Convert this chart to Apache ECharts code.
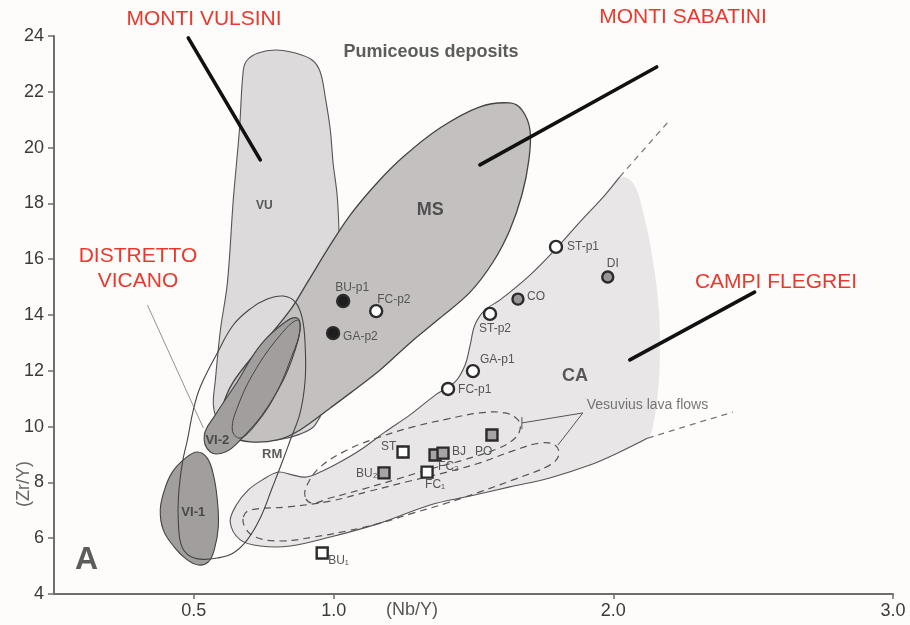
<!DOCTYPE html>
<html>
<head>
<meta charset="utf-8">
<script src="https://cdn.jsdelivr.net/npm/echarts@6/dist/echarts.min.js"></script>
<style>
html,body{margin:0;padding:0;background:#fdfcfb}
#chart{width:910px;height:625px}
</style>
</head>
<body>
<div id="chart"></div>
<script>
// ---------- axes ----------
const xTickValues = [0.5, 1.0, 2.0, 3.0];
const yRange = [4, 24];

// ---------- field outlines, in (Nb/Y, Zr/Y) ----------
const outlineVU = [[0.677,22.78],[0.691,23.14],[0.730,23.39],[0.791,23.50],[0.863,23.39],[0.923,23.14],[0.952,22.71],[0.970,21.81],[0.988,20.63],[0.998,19.45],[1.013,18.23],[1.020,16.69],[1.023,14.90],[1.016,13.10],[0.988,11.31],[0.934,10.06],[0.880,9.73],[0.798,9.52],[0.702,9.52],[0.630,9.73],[0.588,10.16],[0.570,10.77],[0.577,11.67],[0.595,13.46],[0.620,15.15],[0.641,18.12],[0.663,20.63]];
const outlineMS = [[1.523,21.46],[1.630,21.60],[1.673,21.35],[1.702,20.63],[1.698,19.56],[1.673,18.30],[1.630,17.05],[1.570,15.90],[1.488,14.82],[1.380,13.89],[1.273,13.00],[1.166,12.03],[1.059,11.20],[0.988,10.67],[0.880,9.88],[0.798,9.52],[0.702,9.45],[0.638,9.63],[0.602,10.06],[0.602,10.67],[0.641,11.60],[0.738,12.85],[0.845,14.18],[0.905,15.15],[0.988,16.51],[1.059,17.58],[1.155,18.73],[1.248,19.66],[1.380,20.70]];
const outlineVI2 = [[0.870,13.89],[0.827,13.75],[0.738,12.92],[0.648,11.49],[0.577,10.42],[0.5375,9.70],[0.559,9.09],[0.6125,9.09],[0.666,9.52],[0.745,10.42],[0.820,11.67],[0.8625,12.75],[0.880,13.53]];
const outlineVI2core = [[0.870,13.82],[0.809,13.28],[0.720,12.03],[0.659,10.77],[0.6375,9.88],[0.666,9.59],[0.720,10.06],[0.791,11.13],[0.852,12.57],[0.880,13.46]];
const outlineVI1 = [[0.5125,9.09],[0.548,8.87],[0.570,8.27],[0.584,7.37],[0.5875,6.40],[0.573,5.58],[0.552,5.15],[0.516,5.04],[0.473,5.25],[0.430,5.68],[0.391,6.29],[0.380,7.01],[0.395,7.73],[0.423,8.37],[0.470,8.87]];
const outlineRM = [[0.820,14.68],[0.8625,14.47],[0.8875,13.89],[0.898,12.92],[0.898,11.67],[0.880,10.49],[0.845,9.52],[0.816,8.73],[0.780,7.80],[0.7375,6.72],[0.691,5.94],[0.641,5.47],[0.584,5.29],[0.523,5.25],[0.480,5.40],[0.455,5.76],[0.445,6.47],[0.445,7.48],[0.459,8.70],[0.477,9.52],[0.498,10.59],[0.523,11.42],[0.584,12.64],[0.641,13.64],[0.702,14.22],[0.7625,14.57]];

// Campi Flegrei field: outlined edge (top -> left end -> bottom) and unlined right side
const caEdge = [[2.023,18.95],[1.970,18.30],[1.880,17.33],[1.791,16.33],[1.702,15.43],[1.595,14.54],[1.541,14.18],[1.505,13.64],[1.488,12.92],[1.470,12.21],[1.434,11.60],[1.363,11.13],[1.273,10.42],[1.184,9.81],[1.095,9.16],[1.023,8.73],[0.952,8.37],[0.898,8.19],[0.852,8.27],[0.802,8.37],[0.745,8.09],[0.695,7.73],[0.652,7.19],[0.630,6.58],[0.666,5.94],[0.738,5.72],[0.845,5.72],[0.988,6.04],[1.166,6.54],[1.345,7.19],[1.488,7.51],[1.630,7.84],[1.773,8.16],[1.916,8.62],[2.023,9.09],[2.123,9.59]];
const caSide = [[2.141,9.99],[2.159,11.20],[2.166,12.39],[2.163,14.18],[2.141,15.97],[2.105,17.76],[2.070,18.73]];
const caUpperTrend = [[2.023,18.95],[2.202,20.99]];
const caLowerTrend = [[2.123,9.59],[2.427,10.52]];

// Vesuvius lava flows
const vesuvioUpper = [[0.898,7.48],[0.905,7.91],[0.952,8.55],[1.048,9.16],[1.166,9.63],[1.284,9.99],[1.405,10.27],[1.523,10.49],[1.6125,10.49],[1.659,10.24],[1.666,9.88],[1.641,9.52],[1.584,9.20],[1.4625,8.80],[1.345,8.48],[1.227,8.12],[1.105,7.76],[0.9875,7.44],[0.923,7.26]];
const vesuvioLower = [[0.677,6.76],[0.702,7.01],[0.834,7.12],[0.9875,7.33],[1.130,7.69],[1.273,8.05],[1.405,8.37],[1.523,8.70],[1.641,9.13],[1.7375,9.41],[1.791,9.34],[1.805,8.98],[1.773,8.62],[1.641,8.09],[1.523,7.66],[1.405,7.26],[1.284,6.90],[1.166,6.54],[1.048,6.26],[0.927,6.04],[0.809,5.90],[0.720,6.04],[0.684,6.37]];
const vesuvioLeader = [[1.673,10.13],[1.891,10.49],[1.802,9.34]];
const vesuvioTick = [[1.673,10.34],[1.673,9.91]];

// pointers from the district names
const leaderVulsini = [[0.480,23.93],[0.7375,19.56]];
const leaderSabatini = [[1.523,19.38],[2.155,22.89]];
const leaderFlegrei = [[2.059,12.39],[2.505,14.82]];
const leaderVicano = [[0.334,14.36],[0.534,9.95]];

// ---------- samples: [Nb/Y, Zr/Y, name] ----------
const pumiceSabatini = [[1.034,14.50,'BU-p1'],[0.998,13.35,'GA-p2']];
const pumiceOpen = [[1.152,14.14,'FC-p2'],[1.795,16.44,'ST-p1'],[1.559,14.04,'ST-p2'],[1.498,11.99,'GA-p1'],[1.409,11.35,'FC-p1']];
const pumiceGrey = [[1.659,14.57,'CO'],[1.980,15.36,'DI']];
const lavaOpen = [[0.959,5.47,'BU₁'],[1.248,9.09,'ST'],[1.334,8.37,'FC₁']];
const lavaGrey = [[1.180,8.34,'BU₂'],[1.3625,8.98,'FC₂'],[1.391,9.05,'BJ'],[1.566,9.70,'PO']];

// ---------- field names and captions ----------
const fieldLabels = [[0.752,17.91,'VU'],[1.345,17.76,'MS'],[1.8625,11.81,'CA'],[0.780,9.02,'RM'],[0.584,9.52,'VI-2'],[0.498,6.94,'VI-1']];
const captions = [[1.348,23.43,'Pumiceous deposits'],[0.116,5.22,'A'],[1.905,10.77,'Vesuvius lava flows']];

// label placement (pixels from the marker centre)
const labelOffset = {
  'BU-p1':[-8,-13],'FC-p2':[1,-11],'GA-p2':[10,4],'ST-p1':[11,0],'DI':[-1,-13],
  'CO':[9,-2],'ST-p2':[-11,15],'GA-p1':[7,-11],'FC-p1':[10,1],
  'ST':[-22,-5],'BU₂':[-28,1],'FC₁':[-2,13],'FC₂':[3,12],'BJ':[9,-1],'PO':[-17,17],'BU₁':[6,8]
};
const fieldFont = {'VU':12,'MS':18,'CA':18,'RM':13,'VI-2':13,'VI-1':13};
const captionFont = {'Pumiceous deposits':[18,'bold','#333'],'A':[32,'bold','#333'],'Vesuvius lava flows':[14,'normal','#555']};

const FONT = 'Liberation Sans, Arial, Helvetica, sans-serif';

function shapeSeries(kind, pts, style, z, smooth) {
  return {
    type: 'custom', coordinateSystem: 'cartesian2d', silent: true, z: z, clip: false,
    data: [pts[0]],
    renderItem: function (params, api) {
      return {
        type: kind,
        shape: { points: pts.map(function (p) { return api.coord(p); }), smooth: smooth || 0 },
        style: Object.assign({}, style)
      };
    }
  };
}

function sampleSeries(rows, symbol, size, fill, z) {
  return {
    type: 'scatter', z: z, symbol: symbol, symbolSize: size, silent: true,
    itemStyle: { color: fill, borderColor: '#2b2b2b', borderWidth: 2.4, opacity: 1 },
    data: rows.map(function (r) {
      return {
        value: [r[0], r[1]], name: r[2],
        label: {
          show: true, formatter: r[2], position: 'inside', align: 'left', verticalAlign: 'middle',
          offset: labelOffset[r[2]], color: '#555', fontSize: 12, fontFamily: FONT
        }
      };
    })
  };
}

function textSeries(rows, fontFor, z) {
  return {
    type: 'scatter', z: z, symbolSize: 0, silent: true,
    data: rows.map(function (r) {
      const f = fontFor(r[2]);
      return {
        value: [r[0], r[1]],
        label: {
          show: true, formatter: r[2], position: 'inside', align: f[3] || 'center', verticalAlign: 'middle',
          fontSize: f[0], fontWeight: f[1], color: f[2], fontFamily: FONT
        }
      };
    })
  };
}

const edgeStyle = { fill: 'none', stroke: '#555', lineWidth: 1.1 };
const dashStyle = { fill: 'none', stroke: '#555', lineWidth: 1.2, lineDash: [7, 5] };
const trendStyle = { fill: 'none', stroke: '#777', lineWidth: 1.3, lineDash: [6, 5] };
const pointerStyle = { fill: 'none', stroke: '#111', lineWidth: 3.6, lineCap: 'round' };

const chart = echarts.init(document.getElementById('chart'), null, { renderer: 'canvas' });
chart.setOption({
  backgroundColor: '#fdfcfb',
  animation: false,
  grid: { left: 54, right: 17, top: 36, bottom: 31, outerBoundsMode: 'none' },
  xAxis: {
    type: 'value', min: 0, max: 3,
    axisLine: { show: true, lineStyle: { color: '#6e6e6e', width: 2 } },
    axisTick: { show: true, length: 5, customValues: xTickValues, lineStyle: { color: '#6e6e6e', width: 1.5 } },
    axisLabel: { customValues: xTickValues, formatter: function (v) { return v.toFixed(1); }, fontSize: 18, color: '#3a3a3a', margin: 8, fontFamily: FONT },
    splitLine: { show: false }
  },
  yAxis: {
    type: 'value', min: yRange[0], max: yRange[1], interval: 2,
    axisLine: { show: true, lineStyle: { color: '#6e6e6e', width: 2 } },
    axisTick: { show: true, length: 6, lineStyle: { color: '#6e6e6e', width: 1.5 } },
    axisLabel: { fontSize: 18, color: '#3a3a3a', margin: 10, fontFamily: FONT },
    splitLine: { show: false }
  },
  graphic: [
    { type: 'text', style: { text: 'MONTI VULSINI', x: 204, y: 19, textAlign: 'center', textVerticalAlign: 'middle', fontSize: 21, fontFamily: FONT, fill: '#e8392c' } },
    { type: 'text', style: { text: 'MONTI SABATINI', x: 683, y: 17, textAlign: 'center', textVerticalAlign: 'middle', fontSize: 21, fontFamily: FONT, fill: '#e8392c' } },
    { type: 'text', style: { text: 'DISTRETTO', x: 138, y: 256, textAlign: 'center', textVerticalAlign: 'middle', fontSize: 21, fontFamily: FONT, fill: '#e8392c' } },
    { type: 'text', style: { text: 'VICANO', x: 138, y: 281, textAlign: 'center', textVerticalAlign: 'middle', fontSize: 21, fontFamily: FONT, fill: '#e8392c' } },
    { type: 'text', style: { text: 'CAMPI FLEGREI', x: 776, y: 282, textAlign: 'center', textVerticalAlign: 'middle', fontSize: 21, fontFamily: FONT, fill: '#e8392c' } },
    { type: 'text', style: { text: '(Nb/Y)', x: 412, y: 610, textAlign: 'center', textVerticalAlign: 'middle', fontSize: 18, fontFamily: FONT, fill: '#555' } },
    { type: 'text', x: 24, y: 484, rotation: Math.PI / 2, style: { text: '(Zr/Y)', x: 0, y: 0, textAlign: 'center', textVerticalAlign: 'middle', fontSize: 18, fontFamily: FONT, fill: '#666' } }
  ],
  series: [
    shapeSeries('polygon', caEdge.concat(caSide), { fill: '#e8e6e6', stroke: 'none' }, 1, 0.35),
    shapeSeries('polyline', caEdge, edgeStyle, 2, 0.35),
    shapeSeries('polyline', caUpperTrend, trendStyle, 2),
    shapeSeries('polyline', caLowerTrend, trendStyle, 2),
    shapeSeries('polygon', vesuvioUpper, dashStyle, 2, 0.4),
    shapeSeries('polygon', vesuvioLower, dashStyle, 2, 0.4),
    shapeSeries('polyline', vesuvioLeader, { fill: 'none', stroke: '#555', lineWidth: 1 }, 2),
    shapeSeries('polyline', vesuvioTick, { fill: 'none', stroke: '#555', lineWidth: 1 }, 2),
    shapeSeries('polygon', outlineVU, { fill: '#dcdada', stroke: '#555', lineWidth: 1.1 }, 3, 0.35),
    shapeSeries('polygon', outlineMS, { fill: '#c4c0c0', stroke: '#444', lineWidth: 1.3 }, 4, 0.35),
    shapeSeries('polygon', outlineVI2, { fill: '#a29e9e', stroke: '#444', lineWidth: 1.1 }, 5, 0.4),
    shapeSeries('polygon', outlineVI2core, { fill: 'none', stroke: '#444', lineWidth: 1 }, 6, 0.4),
    shapeSeries('polygon', outlineVI1, { fill: '#a29e9e', stroke: '#444', lineWidth: 1.1 }, 5, 0.4),
    shapeSeries('polygon', outlineRM, { fill: 'none', stroke: '#444', lineWidth: 1.1 }, 7, 0.4),
    shapeSeries('polyline', leaderVulsini, pointerStyle, 8),
    shapeSeries('polyline', leaderSabatini, pointerStyle, 8),
    shapeSeries('polyline', leaderFlegrei, pointerStyle, 8),
    shapeSeries('polyline', leaderVicano, { fill: 'none', stroke: '#777', lineWidth: 0.8 }, 8),
    sampleSeries(pumiceSabatini, 'circle', 12, '#1e1e1e', 10),
    sampleSeries(pumiceOpen, 'circle', 12, '#ffffff', 10),
    sampleSeries(pumiceGrey, 'circle', 11, '#9a9696', 10),
    sampleSeries(lavaOpen, 'rect', 11, '#ffffff', 10),
    sampleSeries(lavaGrey, 'rect', 11, '#a8a4a4', 10),
    textSeries(fieldLabels, function (n) { return [fieldFont[n], 'bold', '#333']; }, 11),
    textSeries(captions, function (n) { const c = captionFont[n]; return [c[0], c[1], c[2], n === 'Vesuvius lava flows' ? 'left' : 'center']; }, 11)
  ]
});
</script>
</body>
</html>
